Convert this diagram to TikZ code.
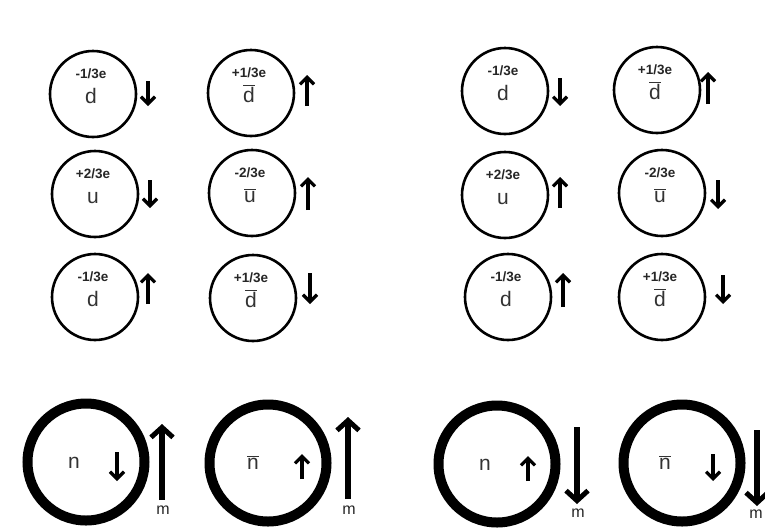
\documentclass[tikz,border=0pt]{standalone}
\usepackage{fontspec}
\setmainfont{Liberation Sans}
\usetikzlibrary{arrows.meta,calc}

\tikzset{
  quark/.style={circle, draw, line width=2.6pt, minimum size=86pt, inner sep=0pt},
  hadron/.style={circle, draw, line width=10pt, minimum size=117pt, inner sep=0pt},
  charge/.style={anchor=base, inner sep=0pt, text=black!85,
    font=\fontsize{13.5}{13.5}\selectfont\bfseries},
  flav/.style={anchor=base, inner sep=0pt, text=black!80,
    font=\fontsize{21}{21}\selectfont},
  mlabel/.style={inner sep=0pt, text=black!85, font=\fontsize{16}{16}\selectfont},
  spin/.style={line width=3.4pt, -{Straight Barb[length=7pt,width=14pt,line width=3.2pt]}},
  moment/.style={line width=5.5pt, -{Straight Barb[length=10pt,width=22pt,line width=5pt]}},
}

% quark: name, centre, charge, flavour
\newcommand{\quarkat}[4]{%
  \node[quark] (#1) at (#2) {};
  \node[charge] (#1-c) at ($(#1)+(-2,-16)$) {#3};
  \node[flav] (#1-f) at ($(#1)+(-2,9)$) {#4};
}
\newcommand{\anti}[1]{$\overline{\hbox{#1}}$}

\begin{document}
\begin{tikzpicture}[x=1pt,y=-1pt]
\useasboundingbox[fill=white] (0,0) rectangle (765,528);

% ---- quark content, left pair ----
\quarkat{L11}{93,94}{-1/3e}{d}
\quarkat{L12}{251,93}{+1/3e}{\anti{d}}
\quarkat{L21}{95,194}{+2/3e}{u}
\quarkat{L22}{252,193}{-2/3e}{\anti{u}}
\quarkat{L31}{95,297}{-1/3e}{d}
\quarkat{L32}{253,298}{+1/3e}{\anti{d}}

\draw[spin] (148,81) -- (148,106);
\draw[spin] (307,106) -- (307,75);
\draw[spin] (150,180) -- (150,208);
\draw[spin] (308,210) -- (308,177);
\draw[spin] (148,304) -- (148,273);
\draw[spin] (310,273) -- (310,304);

% ---- quark content, right pair ----
\quarkat{R11}{505,91}{-1/3e}{d}
\quarkat{R12}{657,90}{+1/3e}{\anti{d}}
\quarkat{R21}{505,195}{+2/3e}{u}
\quarkat{R22}{662,193}{-2/3e}{\anti{u}}
\quarkat{R31}{508,297}{-1/3e}{d}
\quarkat{R32}{662,297}{+1/3e}{\anti{d}}

\draw[spin] (560,78) -- (560,106);
\draw[spin] (708,104) -- (708,72);
\draw[spin] (560,208) -- (560,177);
\draw[spin] (718,180) -- (718,209);
\draw[spin] (563,307) -- (563,273);
\draw[spin] (723,275) -- (723,304);

% ---- neutrons and antineutrons ----
\node[hadron] (N1) at (86,462) {};
\node[hadron] (N2) at (268,463) {};
\node[hadron] (N3) at (497,464) {};
\node[hadron] (N4) at (682,463) {};

\node[flav] (N1-t) at ($(N1)+(-12,6)$) {n};
\node[flav] (N2-t) at ($(N2)+(-15,6)$) {\anti{n}};
\node[flav] (N3-t) at ($(N3)+(-12,6)$) {n};
\node[flav] (N4-t) at ($(N4)+(-17,6)$) {\anti{n}};

% spin inside each circle
\draw[spin] (117,452) -- (117,481);
\draw[spin] (302,479) -- (302,454);
\draw[spin] (528,481) -- (528,456);
\draw[spin] (713,454) -- (713,481);

% magnetic moment beside each circle
\draw[moment] (162,500) -- (162,424);
\draw[moment] (348,499) -- (348,417);
\draw[moment] (577,427) -- (577,504);
\draw[moment] (757,430) -- (757,506);

\node[mlabel] (M1) at (163,510) {m};
\node[mlabel] (M2) at (349,510) {m};
\node[mlabel] (M3) at (578,513) {m};
\node[mlabel] (M4) at (756,514) {m};
\end{tikzpicture}
\end{document}
